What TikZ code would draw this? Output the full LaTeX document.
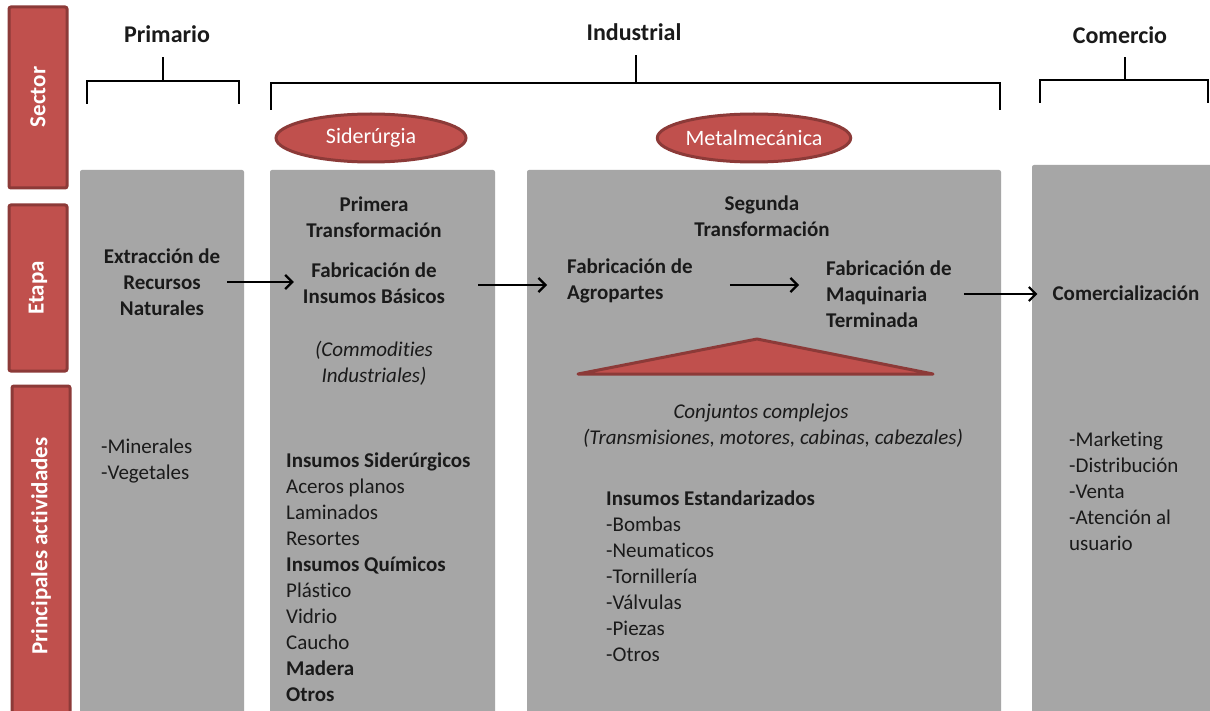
\documentclass[tikz,border=0pt]{standalone}
\usepackage{fontspec}
\setmainfont{Carlito}[Ligatures=NoCommon]
\usetikzlibrary{shapes.geometric,arrows.meta}
\definecolor{myred}{HTML}{C0504D}
\definecolor{myredd}{HTML}{8C3A38}
\definecolor{mygray}{HTML}{A6A6A6}
\definecolor{txt}{HTML}{1A1A1A}
\begin{document}
\begin{tikzpicture}[x=1pt,y=-1pt,
  every node/.style={font=\fontsize{21}{26}\selectfont, text=txt, inner sep=0pt},
  bar/.style={fill=myred, draw=myredd, line width=3pt, rounded corners=2pt},
  col/.style={fill=mygray, draw=none, rounded corners=2pt},
  bartext/.style={rotate=90, text=white, font=\fontsize{23}{26}\selectfont\bfseries},
  sect/.style={ellipse, fill=myred, draw=myredd, line width=3pt, minimum width=190pt, minimum height=48pt, text=white, font=\fontsize{22}{26}\selectfont},
  head/.style={font=\fontsize{24}{26}\selectfont\bfseries},
  bold/.style={font=\fontsize{21}{26}\selectfont\bfseries},
  ital/.style={font=\fontsize{21}{26}\selectfont\itshape},
  brk/.style={line width=2.8pt},
  flow/.style={line width=2.2pt, -{Straight Barb[length=7pt,width=14pt,line width=2.2pt]}}
]
\useasboundingbox (0,0) rectangle (1210,711);
\clip (0,0) rectangle (1210,711);
\fill[white] (0,0) rectangle (1210,711);

% left category bars
\draw[bar] (9,7) rectangle (67,188);
\draw[bar] (9,205) rectangle (67,371);
\draw[bar] (12,386) rectangle (70,730);
\node[bartext] (lsector) at (38,97) {Sector};
\node[bartext] (letapa) at (38,288) {Etapa};
\node[bartext] (lact) at (41,546) {Principales actividades};

% gray columns
\draw[col] (80,170) rectangle (244,730);
\draw[col] (270,170) rectangle (495,730);
\draw[col] (527,170) rectangle (1001,730);
\draw[col] (1032,165) rectangle (1215,730);

% sector headers and brackets
\node[head] (hprim) at (167,34) {Primario};
\node[head] (hind) at (634,32) {Industrial};
\node[head] (hcom) at (1120,35) {Comercio};
\draw[brk] (87,104) -- (87,81) -- (239,81) -- (239,104);
\draw[brk] (163,81) -- (163,57);
\draw[brk] (271,110) -- (271,83) -- (1000,83) -- (1000,110);
\draw[brk] (636,83) -- (636,55);
\draw[brk] (1040,103) -- (1040,80) -- (1208,80) -- (1208,103);
\draw[brk] (1125,80) -- (1125,57);

% subsector ellipses
\node[sect] (sid) at (371,138) {Siderúrgia};
\node[sect] (met) at (754,138) {Metalmecánica};

% column 1
\node[bold, align=center] (ext) at (162,282) {Extracción de\\Recursos\\Naturales};
\node[align=left, anchor=west] (l1) at (101,461) {-Minerales\\-Vegetales};

% column 2
\node[bold, align=center] (prim) at (374,217) {Primera\\Transformación};
\node[bold, align=center] (fab1) at (374,283) {Fabricación de\\Insumos Básicos};
\node[ital, align=center] (comm) at (374,363) {(Commodities\\Industriales)};
\node[align=left, anchor=west] (l2) at (286,577) {\textbf{Insumos Siderúrgicos}\\Aceros planos\\Laminados\\Resortes\\\textbf{Insumos Químicos}\\Plástico\\Vidrio\\Caucho\\\textbf{Madera}\\\textbf{Otros}};

% column 3
\node[bold, align=center] (seg) at (762,216) {Segunda\\Transformación};
\node[bold, align=left, anchor=west] (agro) at (567,281) {Fabricación de\\Agropartes};
\node[bold, align=left, anchor=west] (maq) at (826,294) {Fabricación de\\Maquinaria\\Terminada};
\coordinate (tl) at (578,374);
\coordinate (tr) at (933,374);
\coordinate (ta) at (757,339);
\draw[fill=myred, draw=myredd, line width=3pt, line join=round] (tl) -- (ta) -- (tr) -- cycle;
\node[ital] (conj) at (761,413) {Conjuntos complejos};
\node[ital] (trans) at (773,438) {(Transmisiones, motores, cabinas, cabezales)};
\node[align=left, anchor=west] (l3) at (606,576) {\textbf{Insumos Estandarizados}\\-Bombas\\-Neumaticos\\-Tornillería\\-Válvulas\\-Piezas\\-Otros};

% column 4
\node[bold] (com) at (1126,293) {Comercialización};
\node[align=left, anchor=west] (l4) at (1069,491) {-Marketing\\-Distribución\\-Venta\\-Atención al\\usuario};

% flow arrows
\coordinate (a1) at ([xshift=7pt]ext.east);
\coordinate (a2) at ([shift={(33,2)}]fab1.east);
\coordinate (a3) at ([shift={(37,4)}]agro.east);
\coordinate (a4) at ([xshift=12pt]maq.east);
\draw[flow, shorten >=9pt] (a1) -- (a1 -| fab1.west);
\draw[flow, shorten >=20pt] (a2) -- (a2 -| agro.west);
\draw[flow, shorten >=27pt] (a3) -- (a3 -| maq.west);
\draw[flow, shorten >=15pt] (a4) -- (a4 -| com.west);
\end{tikzpicture}
\end{document}
